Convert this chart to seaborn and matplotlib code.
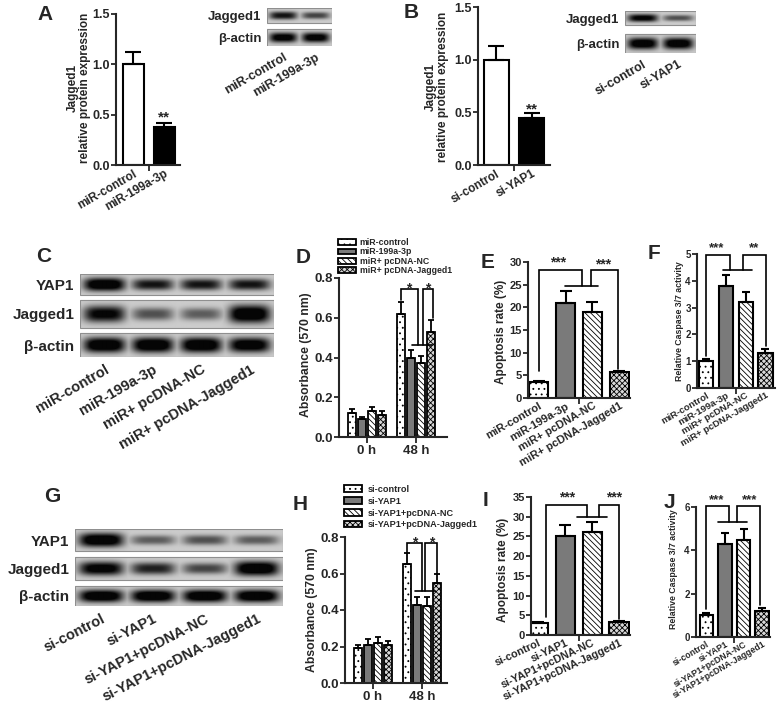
"""Multi-panel Jagged1 / YAP1 figure: western blots plus bar charts."""

import matplotlib

matplotlib.use("Agg")
import matplotlib.pyplot as plt
import numpy as np
import pandas as pd
import seaborn as sns
from matplotlib.patches import Rectangle

# ---------------- data ----------------
a_groups = ["miR-control", "miR-199a-3p"]
a_means = [1.0, 0.38]
a_sem = [0.12, 0.04]

b_groups = ["si-control", "si-YAP1"]
b_means = [1.0, 0.45]
b_sem = [0.13, 0.04]

mir_groups = ["miR-control", "miR-199a-3p", "miR+ pcDNA-NC", "miR+ pcDNA-Jagged1"]
si_groups = ["si-control", "si-YAP1", "si-YAP1+pcDNA-NC", "si-YAP1+pcDNA-Jagged1"]
times = ["0 h", "48 h"]

d_0h = [0.12, 0.09, 0.13, 0.11]
d_0h_sem = [0.02, 0.01, 0.02, 0.02]
d_48h = [0.62, 0.40, 0.37, 0.53]
d_48h_sem = [0.06, 0.04, 0.04, 0.06]

e_means = [3.5, 21.0, 19.0, 5.7]
e_sem = [0.3, 2.7, 2.2, 0.3]

f_means = [1.0, 3.8, 3.2, 1.3]
f_sem = [0.1, 0.4, 0.4, 0.15]

h_0h = [0.19, 0.21, 0.22, 0.21]
h_0h_sem = [0.02, 0.03, 0.03, 0.02]
h_48h = [0.65, 0.43, 0.42, 0.55]
h_48h_sem = [0.06, 0.04, 0.05, 0.05]

i_means = [3.0, 25.0, 26.0, 3.3]
i_sem = [0.3, 3.0, 2.6, 0.3]

j_means = [1.0, 4.3, 4.5, 1.2]
j_sem = [0.12, 0.5, 0.5, 0.15]

# band darkness per lane
blot_a_rows = ["Jagged1", "β-actin"]
blot_a_bands = [[0.75, 0.55], [0.9, 0.9]]
blot_b_rows = ["Jagged1", "β-actin"]
blot_b_bands = [[0.85, 0.5], [0.95, 0.95]]
blot_c_rows = ["YAP1", "Jagged1", "β-actin"]
blot_c_bands = [[1.0, 0.75, 0.75, 0.75], [0.85, 0.5, 0.45, 1.0], [1.0, 1.0, 1.0, 0.95]]
blot_g_rows = ["YAP1", "Jagged1", "β-actin"]
blot_g_bands = [[1.0, 0.45, 0.5, 0.45], [0.9, 0.7, 0.55, 1.0], [1.0, 1.0, 1.0, 1.0]]

FOUR_COLORS = ["white", "#7a7a7a", "white", "#d8d8d8"]
FOUR_HATCHES = ["...", "", "\\\\\\\\\\\\", "xxxxxx"]

# ---------------- figure ----------------
W, H = 778, 717
sns.set_theme(style="ticks")
plt.rcParams["font.family"] = ["Liberation Sans", "DejaVu Sans"]
plt.rcParams["font.weight"] = "bold"
plt.rcParams["axes.labelweight"] = "bold"
plt.rcParams["hatch.linewidth"] = 0.6

fig = plt.figure(figsize=(W / 100, H / 100), dpi=100)


def px_axes(l, t, r, b):
    return fig.add_axes([l / W, 1 - b / H, (r - l) / W, (b - t) / H])


def fig_text(x, y, s, **kw):
    fig.text(x / W, 1 - y / H, s, **kw)


def style_axis(ax, ylim, yticks, fmt, fs):
    ax.set_ylim(*ylim)
    ax.set_yticks(yticks)
    ax.set_yticklabels([fmt.format(v) for v in yticks], fontsize=fs)
    sns.despine(ax=ax)
    for side in ("left", "bottom"):
        ax.spines[side].set_linewidth(1.5)
    ax.tick_params(axis="y", length=3.5, width=1.3, pad=1)
    ax.set_xlabel("")
    ax.set_ylabel("")


def column_panel(ax, groups, means, sem, colors, hatches, width, xlim, cap):
    n = len(groups)
    sns.barplot(x=groups, y=means, hue=groups, palette=colors, width=width,
                edgecolor="black", linewidth=1.5, errorbar=None, legend=False,
                saturation=1, ax=ax)
    for patch, hatch in zip(ax.patches, hatches):
        patch.set_hatch(hatch)
    ax.errorbar(np.arange(n), means, yerr=[np.zeros(n), sem], fmt="none",
                ecolor="black", elinewidth=1.5, capsize=cap, capthick=1.5)
    ax.set_xlim(*xlim)
    ax.set_xticks([(n - 1) / 2], minor=True)
    ax.tick_params(axis="x", which="major", length=0, pad=2)
    ax.tick_params(axis="x", which="minor", length=4, width=1.3)


def x_labels(ax, labels, rot, fs):
    ax.set_xticks(np.arange(len(labels)))
    ax.set_xticklabels(labels, rotation=rot, ha="right", rotation_mode="anchor", fontsize=fs)


def time_panel(ax, v0, s0, v48, s48, groups, xlim, width):
    df = pd.DataFrame({
        "time": [times[0]] * len(v0) + [times[1]] * len(v48),
        "group": groups + groups,
        "value": v0 + v48,
    })
    sns.barplot(data=df, x="time", y="value", hue="group", hue_order=groups,
                palette=FOUR_COLORS, width=width, gap=0.2, edgecolor="black",
                linewidth=1.3, errorbar=None, legend=False, saturation=1, ax=ax)
    bars = list(ax.containers)
    for k, cont in enumerate(bars):
        xs = []
        for patch in cont.patches:
            patch.set_hatch(FOUR_HATCHES[k])
            xs.append(patch.get_x() + patch.get_width() / 2)
        ax.errorbar(xs, [v0[k], v48[k]], yerr=[[0, 0], [s0[k], s48[k]]], fmt="none",
                    ecolor="black", elinewidth=1.3, capsize=2.2, capthick=1.3)
    ax.set_xlim(*xlim)
    ax.tick_params(axis="x", length=4, width=1.3, pad=2, labelsize=9.5)
    return [cont.patches[0] for cont in bars]


def bracket(ax, xs, ys, lw=1.2):
    ax.plot(xs, ys, color="black", lw=lw, clip_on=False, solid_joinstyle="miter")


def blot(ax, rows, bands, heights, gap, lane_labels, rot, row_fs, lane_fs):
    width = 240
    x = np.linspace(0, 1, width)
    parts, centers, tops = [], [], []
    y0 = 0
    for k, (levels, h) in enumerate(zip(bands, heights)):
        n = len(levels)
        yy = np.linspace(-1, 1, h)[:, None]
        dark = np.zeros((h, width))
        for i, v in enumerate(levels):
            c = (i + 0.5) / n
            px = np.exp(-np.abs((x - c) / (0.43 / n)) ** 4)
            py = np.exp(-np.abs(yy / (0.28 + 0.38 * v)) ** 2.5)
            dark = np.maximum(dark, np.clip(1.25 * v * px[None, :] * py, 0, 1))
        parts.append(0.80 - 0.78 * dark)
        tops.append(y0)
        centers.append(y0 + h / 2)
        y0 += h
        if k < len(bands) - 1:
            parts.append(np.ones((gap, width)))
            y0 += gap
    img = np.vstack(parts)
    ax.imshow(img, cmap="gray", vmin=0, vmax=1, aspect="auto",
              extent=(0, 1, y0, 0), interpolation="bilinear")
    for t, h in zip(tops, heights):
        ax.add_patch(Rectangle((0, t), 1, h, fill=False, edgecolor="#8f8f8f", lw=0.8))
    ax.set_xlim(0, 1)
    ax.set_ylim(y0, 0)
    ax.set_yticks(centers)
    ax.set_yticklabels(rows, fontsize=row_fs)
    n = len(bands[0])
    ax.set_xticks([(i + 0.5) / n for i in range(n)])
    ax.set_xticklabels(lane_labels, rotation=rot, ha="right", rotation_mode="anchor", fontsize=lane_fs)
    ax.tick_params(length=0, pad=4)
    for sp in ax.spines.values():
        sp.set_visible(False)


# ---------------- A ----------------
ax = px_axes(116, 14, 180, 165)
column_panel(ax, a_groups, a_means, a_sem, ["white", "black"], ["", ""], 0.68, (-0.55, 1.5), 6)
style_axis(ax, (0, 1.5), [0, 0.5, 1.0, 1.5], "{:.1f}", 9)
x_labels(ax, a_groups, 30, 8.5)
ax.text(1, 0.47, "**", ha="center", va="center", fontsize=11)
fig_text(79, 88, "Jagged1\nrelative protein expression", rotation=90, ha="center", va="center",
         fontsize=8.5, linespacing=1.1)

ax = px_axes(267, 8, 332, 46)
blot(ax, blot_a_rows, blot_a_bands, [15, 17], 6, a_groups, 30, 9.5, 9)

# ---------------- B ----------------
ax = px_axes(478, 7, 550, 165)
column_panel(ax, b_groups, b_means, b_sem, ["white", "black"], ["", ""], 0.7, (-0.51, 1.52), 6)
style_axis(ax, (0, 1.5), [0, 0.5, 1.0, 1.5], "{:.1f}", 9)
x_labels(ax, b_groups, 30, 8.5)
ax.text(1, 0.53, "**", ha="center", va="center", fontsize=11)
fig_text(437, 87, "Jagged1\nrelative protein expression", rotation=90, ha="center", va="center",
         fontsize=8.5, linespacing=1.1)

ax = px_axes(625, 11, 696, 53)
blot(ax, blot_b_rows, blot_b_bands, [14, 19], 9, b_groups, 30, 9.5, 9)

# ---------------- C ----------------
ax = px_axes(80, 274, 274, 357)
blot(ax, blot_c_rows, blot_c_bands, [21, 28, 24], 5, mir_groups, 30, 11, 10.5)

# ---------------- D ----------------
ax = px_axes(339, 278, 447, 437)
handles = time_panel(ax, d_0h, d_0h_sem, d_48h, d_48h_sem, mir_groups, (-0.57, 1.63), 0.82)
style_axis(ax, (0, 0.8), [0, 0.2, 0.4, 0.6, 0.8], "{:.1f}", 9.5)
bracket(ax, [0.69, 0.69, 1.04, 1.04], [0.69, 0.745, 0.745, 0.463])
bracket(ax, [0.92, 1.32], [0.463, 0.463])
bracket(ax, [1.14, 1.14, 1.34, 1.34], [0.463, 0.745, 0.745, 0.60])
ax.text(0.85, 0.748, "*", ha="center", va="center", fontsize=10)
ax.text(1.24, 0.748, "*", ha="center", va="center", fontsize=10)
fig_text(306, 355, "Absorbance (570 nm)", rotation=90, ha="center", va="center", fontsize=8.8)
fig.legend(handles, mir_groups, loc="upper left", bbox_to_anchor=(338 / W, 1 - 238 / H),
           frameon=False, fontsize=6.3, handlelength=2.0, handleheight=0.6,
           labelspacing=0.05, borderpad=0, borderaxespad=0, handletextpad=0.5)

# ---------------- E ----------------
ax = px_axes(528, 262, 630, 398)
column_panel(ax, mir_groups, e_means, e_sem, FOUR_COLORS, FOUR_HATCHES, 0.71, (-0.4, 3.4), 4)
style_axis(ax, (0, 30), [0, 5, 10, 15, 20, 25, 30], "{:d}", 8)
x_labels(ax, mir_groups, 30, 8)
bracket(ax, [0, 0, 1.6, 1.6], [6, 28.3, 28.3, 24.6])
bracket(ax, [0.99, 2.22], [24.6, 24.6])
bracket(ax, [1.96, 1.96, 2.97, 2.97], [24.6, 28.3, 28.3, 6.5])
ax.text(0.73, 28.4, "***", ha="center", va="bottom", fontsize=10)
ax.text(2.4, 28.0, "***", ha="center", va="bottom", fontsize=10)
fig_text(501, 332, "Apoptosis rate (%)", rotation=90, ha="center", va="center", fontsize=8.5)

# ---------------- F ----------------
ax = px_axes(697, 254, 775, 388)
column_panel(ax, mir_groups, f_means, f_sem, FOUR_COLORS, FOUR_HATCHES, 0.71, (-0.45, 3.48), 3)
style_axis(ax, (0, 5), [0, 1, 2, 3, 4, 5], "{:d}", 7)
x_labels(ax, mir_groups, 30, 6.8)
bracket(ax, [0, 0, 1.21, 1.21], [1.2, 4.97, 4.97, 4.41])
bracket(ax, [0.86, 2.3], [4.41, 4.41])
bracket(ax, [1.87, 1.87, 3.03, 3.03], [4.41, 4.97, 4.97, 1.55])
ax.text(0.55, 5.0, "***", ha="center", va="bottom", fontsize=9.5)
ax.text(2.42, 5.0, "**", ha="center", va="bottom", fontsize=9.5)
fig_text(679, 321, "Relative Caspase 3/7 activity", rotation=90, ha="center", va="center", fontsize=6.3)

# ---------------- G ----------------
ax = px_axes(75, 529, 283, 606)
blot(ax, blot_g_rows, blot_g_bands, [22, 23, 20], 6, si_groups, 27, 11, 10.5)

# ---------------- H ----------------
ax = px_axes(345, 537, 447, 683)
handles = time_panel(ax, h_0h, h_0h_sem, h_48h, h_48h_sem, si_groups, (-0.56, 1.5), 0.8)
style_axis(ax, (0, 0.8), [0, 0.2, 0.4, 0.6, 0.8], "{:.1f}", 9.5)
bracket(ax, [0.69, 0.69, 0.99, 0.99], [0.71, 0.767, 0.767, 0.504])
bracket(ax, [0.86, 1.26], [0.504, 0.504])
bracket(ax, [1.06, 1.06, 1.30, 1.30], [0.504, 0.767, 0.767, 0.60])
ax.text(0.84, 0.77, "*", ha="center", va="center", fontsize=10)
ax.text(1.19, 0.77, "*", ha="center", va="center", fontsize=10)
fig_text(312, 610, "Absorbance (570 nm)", rotation=90, ha="center", va="center", fontsize=8.8)
fig.legend(handles, si_groups, loc="upper left", bbox_to_anchor=(344 / W, 1 - 485 / H),
           frameon=False, fontsize=6.6, handlelength=2.0, handleheight=0.75,
           labelspacing=0.3, borderpad=0, borderaxespad=0, handletextpad=0.6)

# ---------------- I ----------------
ax = px_axes(531, 497, 630, 635)
column_panel(ax, si_groups, i_means, i_sem, FOUR_COLORS, FOUR_HATCHES, 0.72, (-0.27, 3.4), 4)
style_axis(ax, (0, 35), [0, 5, 10, 15, 20, 25, 30, 35], "{:d}", 8)
x_labels(ax, si_groups, 25, 7.8)
bracket(ax, [0.3, 0.3, 1.8, 1.8], [4.6, 33, 33, 30])
bracket(ax, [1.43, 2.54], [30, 30])
bracket(ax, [2.24, 2.24, 3.0, 3.0], [30, 33, 33, 4.0])
ax.text(1.07, 33.2, "***", ha="center", va="bottom", fontsize=10)
ax.text(2.8, 33.2, "***", ha="center", va="bottom", fontsize=10)
fig_text(503, 570, "Apoptosis rate (%)", rotation=90, ha="center", va="center", fontsize=8.5)

# ---------------- J ----------------
ax = px_axes(696, 507, 770, 637)
column_panel(ax, si_groups, j_means, j_sem, FOUR_COLORS, FOUR_HATCHES, 0.72, (-0.55, 3.42), 3)
style_axis(ax, (0, 6), [0, 2, 4, 6], "{:d}", 7)
x_labels(ax, si_groups, 30, 6.3)
bracket(ax, [0, 0, 1.23, 1.23], [1.3, 6.05, 6.05, 5.3])
bracket(ax, [0.64, 2.18], [5.3, 5.3])
bracket(ax, [1.66, 1.66, 2.89, 2.89], [5.3, 6.05, 6.05, 1.5])
ax.text(0.53, 6.05, "***", ha="center", va="bottom", fontsize=9.5)
ax.text(2.3, 6.05, "***", ha="center", va="bottom", fontsize=9.5)
fig_text(673, 569, "Relative Caspase 3/7 activity", rotation=90, ha="center", va="center", fontsize=6.3)

# ---------------- panel letters ----------------
for letter, (x, y) in {"A": (45, 14), "B": (411, 13), "C": (44, 257), "D": (303, 258),
                       "E": (488, 263), "F": (654, 254), "G": (52, 497), "H": (300, 505),
                       "I": (485, 500), "J": (669, 502)}.items():
    fig_text(x, y, letter, fontsize=15, fontweight="bold", ha="center", va="center")

fig.savefig("out.png", dpi=100)
